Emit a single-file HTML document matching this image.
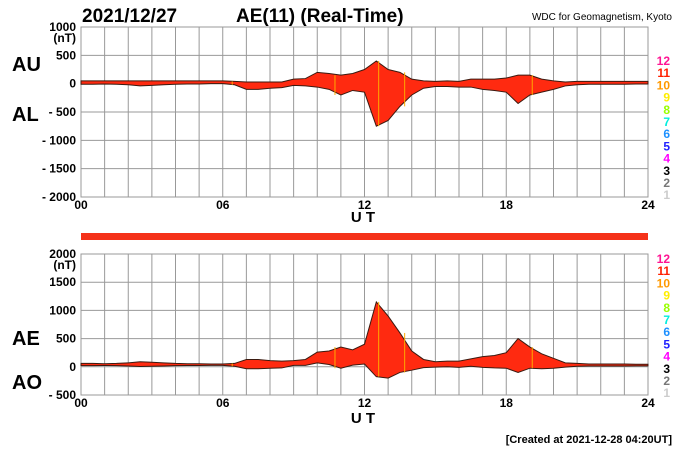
<!DOCTYPE html>
<html><head><meta charset="utf-8">
<style>
body{margin:0;background:#fff;}
svg{display:block;font-family:"Liberation Sans",Arial,sans-serif;}
.tk{font-size:12px;font-weight:bold;}
</style></head>
<body>
<svg id="chart" width="700" height="450" viewBox="0 0 700 450">
<text x="82" y="22" font-size="19" font-weight="bold">2021/12/27</text>
<text x="236" y="22" font-size="19" font-weight="bold">AE(11) (Real-Time)</text>
<text x="672" y="20" font-size="10" text-anchor="end">WDC for Geomagnetism, Kyoto</text>
<text x="12" y="71" font-size="20" font-weight="bold">AU</text>
<text x="12" y="121" font-size="20" font-weight="bold">AL</text>
<text x="12" y="345" font-size="20" font-weight="bold">AE</text>
<text x="12" y="389" font-size="20" font-weight="bold">AO</text>
<text x="363" y="222" font-size="15" font-weight="bold" text-anchor="middle">U T</text>
<text x="363" y="423" font-size="15" font-weight="bold" text-anchor="middle">U T</text>
<text x="672" y="443" font-size="11" font-weight="bold" text-anchor="end">[Created at 2021-12-28 04:20UT]</text>
<rect x="81" y="233" width="567" height="7" fill="#f5321a"/>
<g id="g"></g>
</svg>
<script>
const hours=[];for(let i=0;i<=48;i++)hours.push(i/2);
const AU=[50,50,50,50,50,50,50,50,50,50,50,50,50,40,30,30,30,30,80,90,200,180,150,180,250,400,250,200,80,50,40,50,40,80,80,80,100,150,150,80,50,30,40,40,40,40,40,40,40];
const AL=[-10,-10,-5,-10,-20,-40,-30,-20,-10,-5,-5,0,0,-20,-100,-100,-80,-70,-30,-40,-60,-100,-200,-120,-150,-750,-650,-400,-200,-80,-50,-50,-60,-60,-100,-120,-150,-350,-200,-150,-100,-40,-20,-10,-10,-10,-10,-5,-5];
const AE=[60,60,55,60,70,90,80,70,60,55,55,50,50,60,130,130,110,100,110,130,260,280,350,300,400,1150,900,600,280,130,90,100,100,140,180,200,250,500,350,230,150,70,60,50,50,50,50,45,45];
const AO=[20,20,22,20,15,5,10,15,20,22,22,25,25,10,-35,-35,-25,-20,25,25,70,40,-25,30,50,-175,-200,-100,-60,-15,-5,0,-10,10,-10,-20,-25,-100,-25,-35,-25,-5,10,15,15,15,15,17,17];
const topTicks=[1000,500,0,-500,-1000,-1500,-2000];
const topTickLabels=["1000","500","0","- 500","- 1000","- 1500","- 2000"];
const botTicks=[2000,1500,1000,500,0,-500];
const botTickLabels=["2000","1500","1000","500","0","- 500"];
const xTicks=[0,6,12,18,24];
const xTickLabels=["00","06","12","18","24"];
const legendNums=["12","11","10","9","8","7","6","5","4","3","2","1"];
const legendColors=["#ff1493","#ff2000","#ff9900","#ffee00","#99ff00","#00eedd","#1e90ff","#2222ff","#ff00ff","#000000","#777777","#cccccc"];
const X0=81,X1=648;
const x=h=>X0+(X1-X0)*h/24;
const yTop=v=>27+(1000-v)*(170/3000);
const yBot=v=>254+(2000-v)*(141/2500);
const g=document.getElementById('g');
const NS='http://www.w3.org/2000/svg';
function mk(t,a){const e=document.createElementNS(NS,t);for(const k in a)e.setAttribute(k,a[k]);g.appendChild(e);return e;}
function panel(name,yf,ticks,labels,top,bot,up,lo,unitY){
  const bg=mk('rect',{x:X0,y:yf(top),width:X1-X0,height:yf(bot)-yf(top),fill:'#fff',stroke:'#999'});
  
  
  for(let h=1;h<24;h++){const l=mk('line',{x1:x(h),x2:x(h),y1:yf(top),y2:yf(bot),stroke:'#999','stroke-width':1});
    
    }
  ticks.forEach((v,i)=>{const l=mk('line',{x1:X0,x2:X1,y1:yf(v),y2:yf(v),stroke:'#999','stroke-width':1});
    
    
    const t=mk('text',{x:76,y:yf(v)+4,'text-anchor':'end',class:'tk'});t.textContent=labels[i];
    
    });
  const u=mk('text',{x:76,y:unitY,'text-anchor':'end',class:'tk'});u.textContent='(nT)';
  
  
  let d='M'+hours.map((h,i)=>x(h)+','+yf(up[i])).join('L');
  for(let i=hours.length-1;i>=0;i--)d+='L'+x(hours[i])+','+yf(lo[i]);
  const p=mk('path',{d:d+'Z',fill:'#ff2a10',stroke:'#3a1a10','stroke-width':1});
  
  
  [6.4,10.75,12.6,13.7,19.1].forEach(h=>{const i=Math.round(h*2);const l=mk('line',{x1:x(h),x2:x(h),y1:yf(up[i]),y2:yf(lo[i]),stroke:'#ffaa00','stroke-width':1});
    
    });
  xTicks.forEach((h,i)=>{const t=mk('text',{x:x(h),y:yf(bot)+12,'text-anchor':'middle',class:'tk'});t.textContent=xTickLabels[i];
    
    });
}
panel('top',yTop,topTicks,topTickLabels,1000,-2000,AU,AL,42);
panel('bottom',yBot,botTicks,botTickLabels,2000,-500,AE,AO,269);
function legend(y0,name){legendNums.forEach((n,i)=>{const t=mk('text',{x:670,y:y0+i*12.2,'text-anchor':'end',class:'tk',fill:legendColors[i]});t.textContent=n;
  
  });}
legend(65,'top');legend(263,'bottom');
</script>
</body></html>
